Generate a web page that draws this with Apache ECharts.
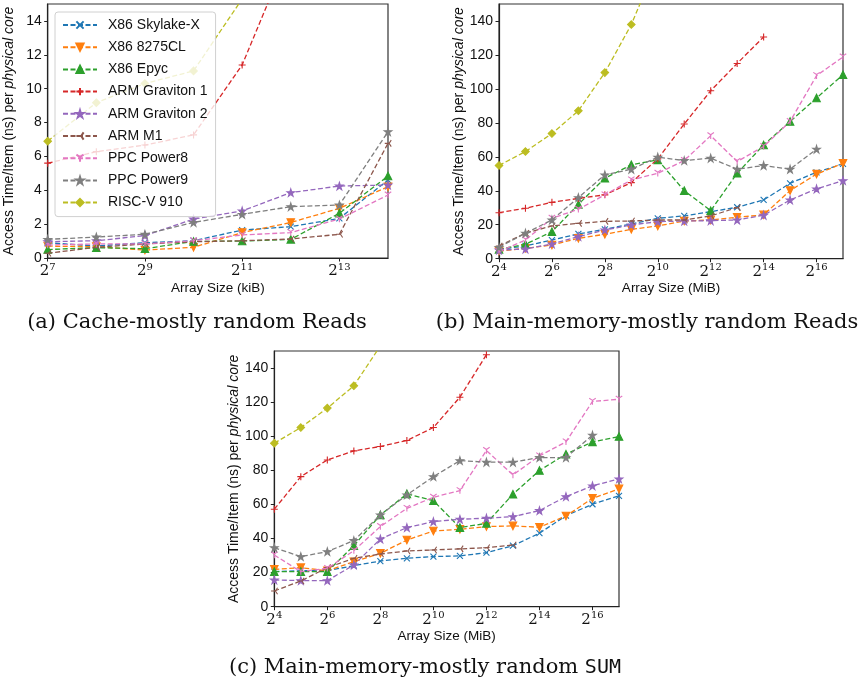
<!DOCTYPE html>
<html><head><meta charset="utf-8">
<script src="https://cdn.jsdelivr.net/npm/echarts@6/dist/echarts.min.js"></script>
<style>html,body{margin:0;padding:0;background:#fff}#c{width:868px;height:688px}</style>
</head><body><div id="c"></div>
<script>
// ---- data ----
const seriesNames = ['X86 Skylake-X','X86 8275CL','X86 Epyc','ARM Graviton 1','ARM Graviton 2','ARM M1','PPC Power8','PPC Power9','RISC-V 910'];
// x values are log2 of array size
const xExpA = [7,8,9,10,11,12,13,14];           // kiB
const xExpB = [4,5,6,7,8,9,10,11,12,13,14,15,16,17]; // MiB
const xExpC = [4,5,6,7,8,9,10,11,12,13,14,15,16,17]; // MiB
const xTicksA = [7,9,11,13];
const xTicksBC = [4,6,8,10,12,14,16];
const yTicksA = [0,2,4,6,8,10,12,14];
const yTicksBC = [0,20,40,60,80,100,120,140];

// (a) Cache-mostly random Reads
const skylakeA = [0.9,0.71,0.9,1.02,1.65,1.85,2.34,4.6];
const cl8275A  = [0.7,0.67,0.47,0.63,1.5,2.1,2.93,4.21];
const epycA    = [0.5,0.61,0.55,0.98,1.0,1.1,2.64,4.84];
const grav1A   = [5.6,6.28,6.67,7.27,11.4,18.3,23,27];
const grav2A   = [0.96,1.02,1.32,2.3,2.78,3.86,4.25,4.31];
const m1A      = [0.28,0.63,0.83,0.96,1.02,1.12,1.4,6.77];
const power8A  = [0.77,0.83,0.83,1.02,1.36,1.5,2.3,3.72];
const power9A  = [1.1,1.24,1.4,2.1,2.58,3.03,3.13,7.46];
const riscvA   = [6.9,9.17,10.3,11.05,15.3,25,40,55];

// (b) Main-memory-mostly random Reads
const skylakeB = [5.5,7.5,11,14.6,17.3,20.5,23.8,25.2,27.7,30.3,34.6,44.4,50.9,55.9];
const cl8275B  = [4.5,6.1,8.1,12,14.4,17.3,19.3,22.2,22.8,24.4,25.8,40.1,49.8,56.2];
const epycB    = [5.5,8.5,15.9,32,47.4,55.3,58.2,40.1,28.3,50.3,67,80.8,94.6,108.4];
const grav1B   = [27.1,29.7,33.2,35.5,37.6,44.8,58.8,79.3,98.9,115,130.6];
const grav2B   = [5.1,5.7,8.7,13,16.9,19.9,21.8,22.2,22.4,22.8,25.6,34.6,41.1,46];
const m1B      = [7.5,15,19.3,20.8,22,22.2,22.8,22.8,25.2,30.1];
const power8B  = [4.1,11,23.8,29.1,37.6,46.4,50.3,57.8,72.4,57.2,66.1,80.8,107.8,118.8];
const power9B  = [6.7,15,22.8,36,49.4,52.7,59.8,57.8,59.2,52.7,54.9,52.7,64.5];
const riscvB   = [54.9,63.1,73.7,87.1,109.6,137.9,175];

// (c) Main-memory-mostly random SUM
const skylakeC = [20.6,21.1,21.1,24.1,26.8,28.4,29.4,29.8,31.7,35.8,43.1,53.4,60.1,65];
const cl8275C  = [21.9,22.9,21.1,26.4,31.3,39.1,44.4,45.4,47,47.4,46.6,53.2,63.6,69.1];
const epycC    = [20.6,20.6,20.6,35.8,53.8,66.2,62.2,46.4,48.9,66,79.9,89.5,96.7,99.8];
const grav1C   = [57.2,76.3,86.1,91.4,94,97.5,105.1,122.9,147.8];
const grav2C   = [15.7,15.3,15.3,24.5,39.7,46.4,49.9,51.3,51.9,52.8,56.4,64.6,70.9,75];
const m1C      = [9.2,15.1,22.9,28.4,30.9,32.7,33.3,33.9,34.6,36.2];
const power8C  = [30.3,20.6,22.5,32.9,47,57.7,64.2,68.1,91.6,77.3,88.5,96.7,120.4,121.7];
const power9C  = [34.6,29.4,32.3,38.8,53.8,65.6,76.3,85.7,84.8,84.8,87.5,87.5,100.6];
const riscvC   = [95.9,105.1,116.5,129.6,153,185];

// ---- styles ----
const COLORS = ['#1f77b4','#ff7f0e','#2ca02c','#d62728','#9467bd','#8c564b','#e377c2','#7f7f7f','#bcbd22'];
const STAR = 'path://M5,0L6.123,3.455L9.755,3.455L6.816,5.59L7.939,9.045L5,6.91L2.061,9.045L3.184,5.59L0.245,3.455L3.877,3.455Z';
const SYMS = [
  ['path://M0,0L10,10M10,0L0,10', 6],
  ['path://M0,0L10,0L5,8.66Z', 7.5],
  ['path://M5,0L10,8.66L0,8.66Z', 7.5],
  ['path://M5,0L5,10M0,5L10,5', 7],
  [STAR, 7.5],
  ['path://M5,5L0,5M5,5L7.5,0.67M5,5L7.5,9.33', 6.5],
  ['path://M5,5L5,10M5,5L0.67,2.5M5,5L9.33,2.5', 6.5],
  [STAR, 7.5],
  ['path://M5,0L10,5L5,10L0,5Z', 7.5]
];
const SANS = 'Liberation Sans';
const SERIF = 'DejaVu Serif';

const panels = [
  {x: xExpA, vals:[skylakeA,cl8275A,epycA,grav1A,grav2A,m1A,power8A,power9A,riscvA]},
  {x: xExpB, vals:[skylakeB,cl8275B,epycB,grav1B,grav2B,m1B,power8B,power9B,riscvB]},
  {x: xExpC, vals:[skylakeC,cl8275C,epycC,grav1C,grav2C,m1C,power8C,power9C,riscvC]}
];

const series = [];
panels.forEach((p, pi) => {
  p.vals.forEach((v, si) => {
    series.push({
      type: 'line', name: seriesNames[si], xAxisIndex: pi, yAxisIndex: pi,
      data: v.map((y, j) => [p.x[j], y]),
      symbol: SYMS[si][0], symbolSize: SYMS[si][1], showAllSymbol: true,
      lineStyle: {color: COLORS[si], width: 1.3, type: [5, 2.5]},
      itemStyle: {color: COLORS[si], borderColor: COLORS[si], borderWidth: 1.1},
      clip: true, z: 2 + si
    });
  });
});

const grids = [
  {left: 47.7, top: 4, width: 340.3, height: 254},
  {left: 499, top: 4, width: 344, height: 254.7},
  {left: 274.3, top: 351, width: 344.7, height: 255.7}
];

function xAxis(i, min, max, ticks, unit) {
  return {
    type: 'value', gridIndex: i, min: min, max: max,
    name: 'Array Size (' + unit + ')', nameLocation: 'middle', nameGap: 23,
    nameTextStyle: {fontFamily: SANS, fontSize: 13.5, color: '#111'},
    axisLine: {show: true, lineStyle: {color: '#222', width: 1.2}},
    axisTick: {show: true, inside: false, length: 3.5, lineStyle: {color: '#222'}, customValues: ticks},
    axisLabel: {margin: 4, customValues: ticks, formatter: v => '{b|2}{s|' + v + '}',
      rich: {b: {fontFamily: SERIF, fontSize: 15, color: '#111', lineHeight: 17, verticalAlign: 'bottom'},
             s: {fontFamily: SERIF, fontSize: 10, color: '#111', lineHeight: 17, verticalAlign: 'top'}}},
    splitLine: {show: false}
  };
}
function yAxis(i, max, ticks) {
  return {
    type: 'value', gridIndex: i, min: 0, max: max,
    name: 'Access Time/Item (ns) per {i|physical core}', nameLocation: 'middle', nameGap: 32,
    nameTextStyle: {fontFamily: SANS, fontSize: 14, color: '#111',
      rich: {i: {fontFamily: SANS, fontSize: 14, fontStyle: 'italic', color: '#111'}}},
    axisLine: {show: true, lineStyle: {color: '#222', width: 1.2}},
    axisTick: {show: true, inside: false, length: 3.5, lineStyle: {color: '#222'}, customValues: ticks},
    axisLabel: {margin: 6, customValues: ticks, fontFamily: SANS, fontSize: 14, color: '#111'},
    splitLine: {show: false}
  };
}

const chart = echarts.init(document.getElementById('c'), null, {renderer: 'canvas'});
chart.setOption({
  animation: false,
  backgroundColor: '#fff',
  grid: grids.map(g => Object.assign({show: true, borderColor: '#333', borderWidth: 1.2, backgroundColor: 'transparent'}, g)),
  xAxis: [xAxis(0, 7, 14, xTicksA, 'kiB'), xAxis(1, 4, 17, xTicksBC, 'MiB'), xAxis(2, 4, 17, xTicksBC, 'MiB')],
  yAxis: [yAxis(0, 15, yTicksA), yAxis(1, 150, yTicksBC), yAxis(2, 150, yTicksBC)],
  legend: {
    data: seriesNames, orient: 'vertical', left: 55, top: 12,
    itemWidth: 34, itemHeight: 9, itemGap: 8.2,
    padding: [6, 8, 7, 7],
    backgroundColor: 'rgba(255,255,255,0.8)', borderColor: '#d0d0d0', borderWidth: 1, borderRadius: 3,
    textStyle: {fontFamily: SANS, fontSize: 14, color: '#111', padding: [0, 0, 0, 6]},
    selectedMode: false, z: 20
  },
  graphic: [
    {type: 'text', style: {text: '(a) Cache-mostly random Reads', x: 197, y: 323, textAlign: 'center', textVerticalAlign: 'middle', font: '21px "DejaVu Serif"', fill: '#111'}},
    {type: 'text', style: {text: '(b) Main-memory-mostly random Reads', x: 647, y: 323, textAlign: 'center', textVerticalAlign: 'middle', font: '21px "DejaVu Serif"', fill: '#111'}},
    {type: 'text', style: {text: '(c) Main-memory-mostly random {m|SUM}', x: 425, y: 668, textAlign: 'center', textVerticalAlign: 'middle', font: '21px "DejaVu Serif"', fill: '#111',
      rich: {m: {fontFamily: 'DejaVu Sans Mono', fontSize: 20, fill: '#111'}}}}
  ],
  series: series
});
</script>
</body></html>
